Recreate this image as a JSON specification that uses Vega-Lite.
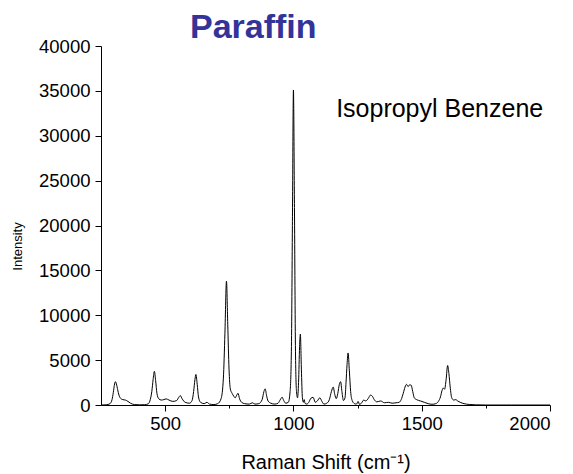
{
  "$schema": "https://vega.github.io/schema/vega-lite/v6.json",
  "width": 449,
  "height": 359,
  "autosize": {"type": "none"},
  "padding": {"left": 101, "top": 46, "right": 23, "bottom": 69},
  "background": "white",
  "config": {
    "view": {"stroke": null},
    "font": "Liberation Sans",
    "axis": {"grid": false, "domainColor": "black", "tickColor": "black", "labelColor": "black", "titleColor": "black", "labelFont": "Liberation Sans", "titleFont": "Liberation Sans", "titleFontWeight": "normal", "domainWidth": 1, "tickWidth": 1}
  },
  "title": {"text": "Paraffin", "font": "Liberation Sans", "fontSize": 34, "fontWeight": "bold", "color": "#333399", "anchor": "start", "frame": "group", "dx": 89, "offset": 6, "dy": 14},
  "data": {"values": [
    {"shift": 250, "intensity": 0},
    {"shift": 270, "intensity": 20},
    {"shift": 285, "intensity": 150},
    {"shift": 293, "intensity": 600},
    {"shift": 298, "intensity": 1400},
    {"shift": 302, "intensity": 2200},
    {"shift": 306, "intensity": 2600},
    {"shift": 310, "intensity": 2350},
    {"shift": 315, "intensity": 1700},
    {"shift": 320, "intensity": 1100},
    {"shift": 326, "intensity": 750},
    {"shift": 335, "intensity": 600},
    {"shift": 345, "intensity": 550},
    {"shift": 355, "intensity": 400},
    {"shift": 365, "intensity": 200},
    {"shift": 380, "intensity": 50},
    {"shift": 400, "intensity": 20},
    {"shift": 420, "intensity": 30},
    {"shift": 435, "intensity": 150},
    {"shift": 442, "intensity": 600},
    {"shift": 448, "intensity": 1500},
    {"shift": 453, "intensity": 2800},
    {"shift": 458, "intensity": 3750},
    {"shift": 463, "intensity": 2700},
    {"shift": 468, "intensity": 1300},
    {"shift": 475, "intensity": 700},
    {"shift": 485, "intensity": 550},
    {"shift": 495, "intensity": 600},
    {"shift": 504, "intensity": 680},
    {"shift": 515, "intensity": 550},
    {"shift": 530, "intensity": 400},
    {"shift": 545, "intensity": 500},
    {"shift": 553, "intensity": 850},
    {"shift": 559, "intensity": 1050},
    {"shift": 566, "intensity": 700},
    {"shift": 578, "intensity": 300},
    {"shift": 595, "intensity": 200},
    {"shift": 605, "intensity": 500},
    {"shift": 611, "intensity": 1500},
    {"shift": 616, "intensity": 2800},
    {"shift": 620, "intensity": 3400},
    {"shift": 625, "intensity": 2300},
    {"shift": 630, "intensity": 900},
    {"shift": 638, "intensity": 300},
    {"shift": 652, "intensity": 150},
    {"shift": 663, "intensity": 300},
    {"shift": 673, "intensity": 100},
    {"shift": 690, "intensity": 50},
    {"shift": 705, "intensity": 150},
    {"shift": 718, "intensity": 700},
    {"shift": 727, "intensity": 3000},
    {"shift": 733, "intensity": 8000},
    {"shift": 739, "intensity": 13800},
    {"shift": 744, "intensity": 9000},
    {"shift": 749, "intensity": 4000},
    {"shift": 754, "intensity": 1800},
    {"shift": 761, "intensity": 1300},
    {"shift": 767, "intensity": 1000},
    {"shift": 773, "intensity": 800},
    {"shift": 779, "intensity": 1100},
    {"shift": 784, "intensity": 1300},
    {"shift": 790, "intensity": 700},
    {"shift": 798, "intensity": 300},
    {"shift": 810, "intensity": 150},
    {"shift": 828, "intensity": 100},
    {"shift": 840, "intensity": 250},
    {"shift": 850, "intensity": 100},
    {"shift": 865, "intensity": 150},
    {"shift": 878, "intensity": 600},
    {"shift": 885, "intensity": 1500},
    {"shift": 890, "intensity": 1800},
    {"shift": 895, "intensity": 1100},
    {"shift": 901, "intensity": 450},
    {"shift": 912, "intensity": 200},
    {"shift": 927, "intensity": 100},
    {"shift": 940, "intensity": 200},
    {"shift": 950, "intensity": 650},
    {"shift": 956, "intensity": 870},
    {"shift": 962, "intensity": 500},
    {"shift": 970, "intensity": 200},
    {"shift": 980, "intensity": 300},
    {"shift": 987, "intensity": 1500},
    {"shift": 992, "intensity": 6000},
    {"shift": 996, "intensity": 20000},
    {"shift": 1000, "intensity": 35100},
    {"shift": 1004, "intensity": 22000},
    {"shift": 1008, "intensity": 6000},
    {"shift": 1012, "intensity": 1500},
    {"shift": 1016, "intensity": 800},
    {"shift": 1020, "intensity": 2500},
    {"shift": 1024, "intensity": 6500},
    {"shift": 1027, "intensity": 7900},
    {"shift": 1031, "intensity": 4000},
    {"shift": 1035, "intensity": 800},
    {"shift": 1039, "intensity": 300},
    {"shift": 1042, "intensity": 600},
    {"shift": 1045, "intensity": 200},
    {"shift": 1052, "intensity": 100},
    {"shift": 1060, "intensity": 300},
    {"shift": 1068, "intensity": 750},
    {"shift": 1077, "intensity": 850},
    {"shift": 1085, "intensity": 300},
    {"shift": 1093, "intensity": 450},
    {"shift": 1103, "intensity": 800},
    {"shift": 1111, "intensity": 400},
    {"shift": 1119, "intensity": 100},
    {"shift": 1130, "intensity": 200},
    {"shift": 1140, "intensity": 600},
    {"shift": 1148, "intensity": 1500},
    {"shift": 1155, "intensity": 2000},
    {"shift": 1161, "intensity": 1200},
    {"shift": 1167, "intensity": 700},
    {"shift": 1173, "intensity": 1300},
    {"shift": 1179, "intensity": 2300},
    {"shift": 1184, "intensity": 2600},
    {"shift": 1189, "intensity": 1500},
    {"shift": 1195, "intensity": 500},
    {"shift": 1201, "intensity": 800},
    {"shift": 1205, "intensity": 2500},
    {"shift": 1209, "intensity": 4500},
    {"shift": 1213, "intensity": 5800},
    {"shift": 1218, "intensity": 3800},
    {"shift": 1223, "intensity": 1500},
    {"shift": 1229, "intensity": 500},
    {"shift": 1238, "intensity": 150},
    {"shift": 1246, "intensity": 100},
    {"shift": 1252, "intensity": 400},
    {"shift": 1258, "intensity": 50},
    {"shift": 1266, "intensity": 250},
    {"shift": 1274, "intensity": 550},
    {"shift": 1282, "intensity": 450},
    {"shift": 1292, "intensity": 750},
    {"shift": 1300, "intensity": 1100},
    {"shift": 1307, "intensity": 1000},
    {"shift": 1315, "intensity": 600},
    {"shift": 1325, "intensity": 350},
    {"shift": 1340, "intensity": 450},
    {"shift": 1355, "intensity": 250},
    {"shift": 1370, "intensity": 300},
    {"shift": 1385, "intensity": 200},
    {"shift": 1400, "intensity": 250},
    {"shift": 1412, "intensity": 300},
    {"shift": 1420, "intensity": 600},
    {"shift": 1428, "intensity": 1300},
    {"shift": 1435, "intensity": 2000},
    {"shift": 1441, "intensity": 2300},
    {"shift": 1447, "intensity": 2050},
    {"shift": 1453, "intensity": 2250},
    {"shift": 1459, "intensity": 2200},
    {"shift": 1465, "intensity": 1500},
    {"shift": 1471, "intensity": 800},
    {"shift": 1480, "intensity": 600},
    {"shift": 1495, "intensity": 450},
    {"shift": 1510, "intensity": 300},
    {"shift": 1525, "intensity": 150},
    {"shift": 1540, "intensity": 80},
    {"shift": 1555, "intensity": 150},
    {"shift": 1565, "intensity": 400},
    {"shift": 1573, "intensity": 900},
    {"shift": 1579, "intensity": 1600},
    {"shift": 1584, "intensity": 1900},
    {"shift": 1589, "intensity": 1750},
    {"shift": 1595, "intensity": 2800},
    {"shift": 1601, "intensity": 4400},
    {"shift": 1606, "intensity": 3500},
    {"shift": 1611, "intensity": 2000},
    {"shift": 1617, "intensity": 800},
    {"shift": 1625, "intensity": 550},
    {"shift": 1633, "intensity": 600},
    {"shift": 1640, "intensity": 450},
    {"shift": 1650, "intensity": 300},
    {"shift": 1665, "intensity": 150},
    {"shift": 1685, "intensity": 60},
    {"shift": 1710, "intensity": 20},
    {"shift": 1750, "intensity": 0},
    {"shift": 1850, "intensity": 0},
    {"shift": 2000, "intensity": 0}
  ]},
  "layer": [
    {
      "mark": {"type": "line", "color": "black", "strokeWidth": 1, "interpolate": "monotone"},
      "encoding": {
        "x": {
          "field": "shift", "type": "quantitative",
          "scale": {"domain": [250, 2000], "nice": false, "zero": false},
          "axis": {
            "values": [500, 750, 1000, 1250, 1500, 1750, 2000],
            "labelExpr": "datum.value % 500 === 0 ? datum.label : ''",
            "format": "d",
            "tickSize": {"condition": {"test": "datum.value % 500 === 0", "value": 6}, "value": 3},
            "labelFontSize": 18.5,
            "labelPadding": 3,
            "title": "Raman Shift (cm⁻¹)",
            "titleFontSize": 20,
            "titlePadding": 20
          }
        },
        "y": {
          "field": "intensity", "type": "quantitative",
          "scale": {"domain": [0, 40000], "nice": false},
          "axis": {
            "values": [0, 2500, 5000, 7500, 10000, 12500, 15000, 17500, 20000, 22500, 25000, 27500, 30000, 32500, 35000, 37500, 40000],
            "labelExpr": "datum.value % 5000 === 0 ? datum.label : ''",
            "format": "d",
            "tickSize": {"condition": {"test": "datum.value % 5000 === 0", "value": 6}, "value": 3},
            "labelFontSize": 18.5,
            "labelPadding": 5,
            "title": "Intensity",
            "titleFontSize": 13,
            "titlePadding": 14,
            "titleY": 200
          }
        }
      }
    },
    {
      "data": {"values": [{"note": "Isopropyl Benzene"}]},
      "mark": {"type": "text", "font": "Liberation Sans", "fontSize": 25, "color": "black", "align": "center", "baseline": "middle"},
      "encoding": {
        "text": {"field": "note", "type": "nominal"},
        "x": {"datum": 1570, "type": "quantitative"},
        "y": {"datum": 33000, "type": "quantitative"}
      }
    }
  ]
}
